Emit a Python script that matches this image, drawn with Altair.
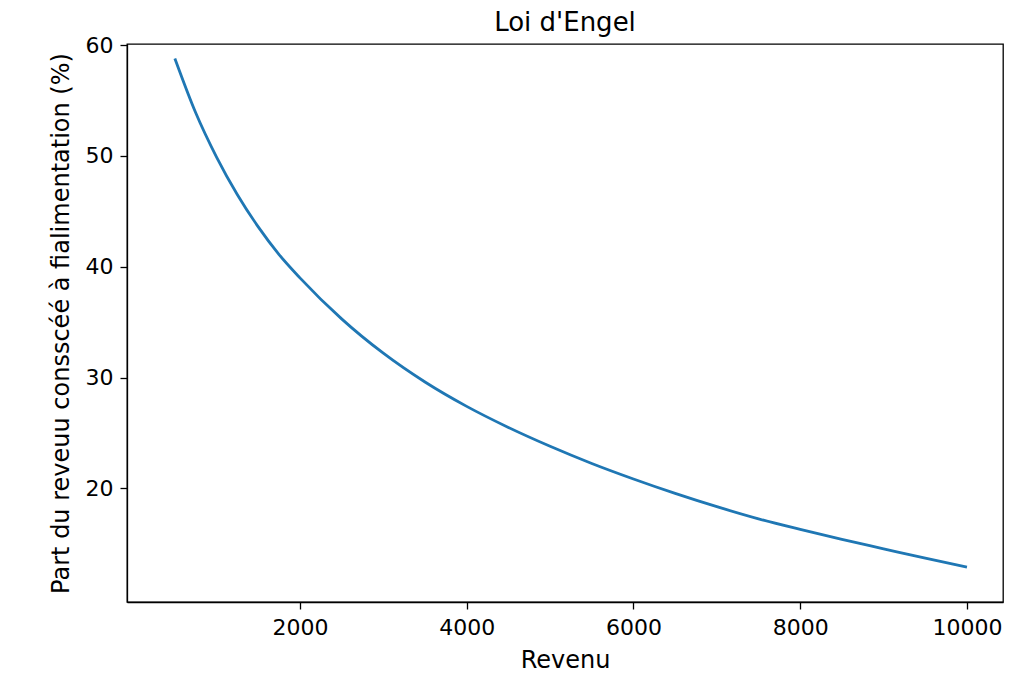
import altair as alt
import pandas as pd

revenu = [500, 750, 1000, 1250, 1500, 1750, 2000, 2500, 3000, 3500, 4000,
          4500, 5000, 5500, 6000, 6500, 7000, 7500, 8000, 8500, 9000, 9500, 10000]
part = [58.8, 53.9, 49.9, 46.5, 43.6, 41.1, 39.0, 35.3, 32.2, 29.6, 27.4,
        25.5, 23.8, 22.25, 20.85, 19.55, 18.35, 17.25, 16.3, 15.4, 14.55, 13.7, 12.9]
x_ticks = [2000, 4000, 6000, 8000, 10000]
y_ticks = [20, 30, 40, 50, 60]

df = pd.DataFrame({"Revenu": revenu, "Part": part})

FONT = "DejaVu Sans"

chart = alt.Chart(df).mark_line(
    color="#1f77b4", strokeWidth=2.8, interpolate="monotone"
).encode(
    x=alt.X("Revenu:Q",
            scale=alt.Scale(domain=[-74, 10432], nice=False, zero=False),
            axis=alt.Axis(values=x_ticks, format="d", title="Revenu",
                          grid=False, tickSize=7, labelPadding=8,
                          titlePadding=10)),
    y=alt.Y("Part:Q",
            scale=alt.Scale(domain=[9.75, 60.1], nice=False, zero=False),
            axis=alt.Axis(values=y_ticks, format="d",
                          title="Part du reveuu consscéé à fialimentation (%)",
                          grid=False, tickSize=7, labelPadding=7,
                          titlePadding=12)),
).properties(
    width=876, height=558,
    title=alt.TitleParams("Loi d'Engel", fontSize=26, font=FONT,
                          fontWeight="normal", color="black", offset=-2),
    autosize=alt.AutoSizeParams(type="none"),
    padding={"left": 119, "top": 36, "right": 10, "bottom": 73},
).configure_view(
    stroke="black", strokeWidth=1.3
).configure_axis(
    labelFont=FONT, titleFont=FONT, labelFontSize=22, titleFontSize=24,
    labelColor="black", titleColor="black", tickColor="black",
    domainColor="black", titleFontWeight="normal", domainWidth=1.3,
    tickWidth=1.3
)

chart.save("out.html", embed_options={"renderer": "svg", "actions": False})
